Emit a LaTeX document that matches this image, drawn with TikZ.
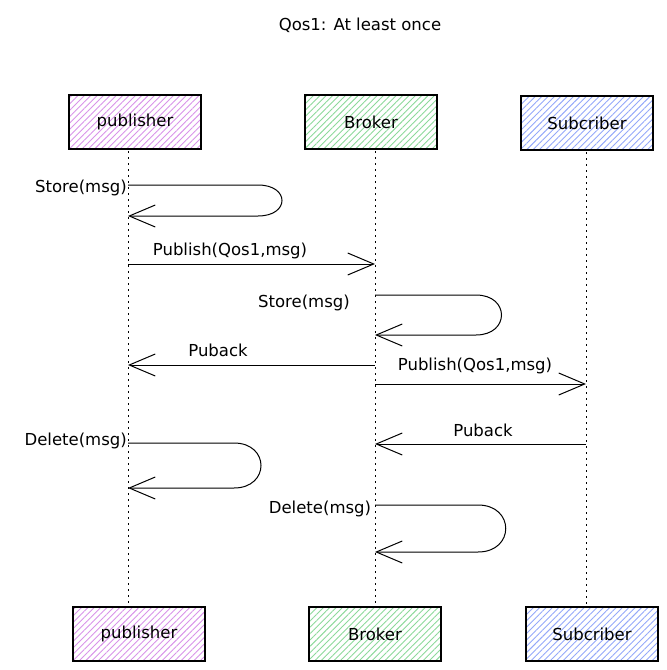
\documentclass[tikz,border=0pt]{standalone}
\usepackage{fontspec}
\setmainfont{DejaVu Sans}
\usetikzlibrary{arrows.meta,patterns.meta}
\definecolor{pubc}{HTML}{BE4BDB}
\definecolor{brkc}{HTML}{40C057}
\definecolor{subc}{HTML}{4C6EF5}
\tikzset{
  actor/.style={draw=black, line width=1.2pt, minimum width=132pt, minimum height=54pt,
    inner sep=0pt, font=\fontsize{16.5}{20}\selectfont,
    pattern={Lines[angle=45,distance=4.5pt,line width=0.9pt]}},
  lifeline/.style={line width=1pt, dash pattern=on 1.5pt off 4.5pt},
  msg/.style={line width=1pt, -{Straight Barb[length=26pt,width=22pt,line width=1pt]}},
  lbl/.style={font=\fontsize{16.5}{20}\selectfont, inner sep=1pt},
}
\begin{document}
\begin{tikzpicture}[x=1pt,y=-1pt]
\useasboundingbox (0,0) rectangle (667,670);
\node[font=\fontsize{16.5}{20}\selectfont] (title) at (360,25) {Qos1: At least once};
% actors top
\node[actor, pattern color=pubc!60] (pubT) at (135,122) {publisher};
\node[actor, pattern color=brkc!60] (brkT) at (371,122) {Broker};
\node[actor, pattern color=subc!60] (subT) at (587,123) {Subcriber};
% actors bottom
\node[actor, pattern color=pubc!60] (pubB) at (139,634) {publisher};
\node[actor, pattern color=brkc!60] (brkB) at (375,634) {Broker};
\node[actor, pattern color=subc!60] (subB) at (592,634) {Subcriber};
% lifeline coordinates
\coordinate (pl0) at (128,151); \coordinate (pl1) at (128,606);
\coordinate (bl0) at (375,151); \coordinate (bl1) at (375,606);
\coordinate (sl0) at (586,152); \coordinate (sl1) at (586,606);
\draw[lifeline] (pl0) -- (pl1);
\draw[lifeline] (bl0) -- (bl1);
\draw[lifeline] (sl0) -- (sl1);
% message points
\coordinate (a1) at (128,185); \coordinate (a2) at (128,216);
\coordinate (b1) at (128,264); \coordinate (b2) at (375,264);
\coordinate (c1) at (375,295); \coordinate (c2) at (375,335);
\coordinate (d1) at (375,365); \coordinate (d2) at (128,365);
\coordinate (e1) at (375,384); \coordinate (e2) at (586,384);
\coordinate (f1) at (128,443); \coordinate (f2) at (128,488);
\coordinate (g1) at (586,444); \coordinate (g2) at (375,444);
\coordinate (h1) at (375,505); \coordinate (h2) at (375,552);
% messages
\draw[msg] (a1) -- (258,185) .. controls (290,185) and (290,216) .. (258,216) -- (a2);
\draw[msg] (b1) -- (b2);
\draw[msg] (c1) -- (476,295) .. controls (510,295) and (510,335) .. (476,335) -- (c2);
\draw[msg] (d1) -- (d2);
\draw[msg] (e1) -- (e2);
\draw[msg] (f1) -- (234,443) .. controls (270,443) and (270,488) .. (234,488) -- (f2);
\draw[msg] (g1) -- (g2);
\draw[msg] (h1) -- (478,505) .. controls (515,505) and (515,552) .. (478,552) -- (h2);
% labels
\node[lbl, anchor=east] (la) at (128,188) {Store(msg)};
\node[lbl] (lb) at (230,251) {Publish(Qos1,msg)};
\node[lbl] (lc) at (304,303) {Store(msg)};
\node[lbl] (ld) at (218,350) {Puback};
\node[lbl] (le) at (475,366) {Publish(Qos1,msg)};
\node[lbl, anchor=east] (lf) at (128,441) {Delete(msg)};
\node[lbl] (lg) at (483,430) {Puback};
\node[lbl] (lh) at (320,509) {Delete(msg)};
\end{tikzpicture}
\end{document}
